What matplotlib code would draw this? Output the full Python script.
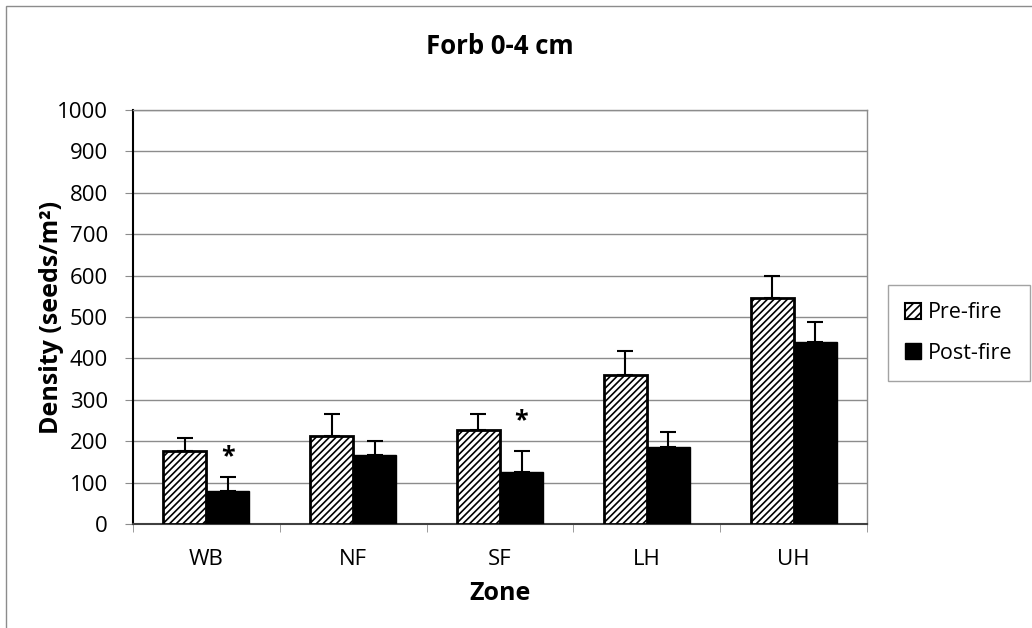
import matplotlib.pyplot as plt
import matplotlib.patches as mpatches
import numpy as np

zones = ["WB", "NF", "SF", "LH", "UH"]
pre_fire = [176, 213, 227, 360, 545]
pre_err = [32, 52, 38, 58, 54]
post_fire = [80, 167, 126, 186, 440]
post_err = [34, 33, 51, 37, 49]
# zones with a significant pre/post difference, and where the star sits
star_zones = ["WB", "SF"]
star_y = [162, 250]

plt.rcParams['font.family'] = ['Open Sans', 'DejaVu Sans']
plt.rcParams['hatch.linewidth'] = 1.2
plt.rcParams['hatch.color'] = '#555555'

fig = plt.figure(figsize=(10.32, 6.28), dpi=100)
ax = fig.add_axes((133 / 1032, 104 / 628, 734 / 1032, 414 / 628))

## Outer chart border (top and left only show)
fig.add_artist(mpatches.Rectangle((6 / 1032, -0.1), 1.2, 1 - 6 / 628 + 0.1,
                                  transform=fig.transFigure, fill=False,
                                  edgecolor='#8c8c8c', linewidth=1.0))

x = np.arange(len(zones))
w = 0.293

ax.bar(x - w / 2, pre_fire, w, color='white', edgecolor='black',
       linewidth=2.0, hatch='/////', zorder=3)
ax.bar(x + w / 2, post_fire, w, color='black', edgecolor='black',
       linewidth=1.0, zorder=3)
ax.errorbar(x - w / 2, pre_fire, yerr=[np.zeros(len(zones)), pre_err],
            fmt='none', ecolor='black', elinewidth=1.5, capsize=6,
            capthick=1.5, zorder=4)
ax.errorbar(x + w / 2, post_fire, yerr=[np.zeros(len(zones)), post_err],
            fmt='none', ecolor='black', elinewidth=1.5, capsize=6,
            capthick=1.5, zorder=4)

for z, sy in zip(star_zones, star_y):
    i = zones.index(z)
    ax.text(x[i] + w / 2, sy, "*", ha='center', va='center', fontsize=18,
            fontweight='bold')

## Axes and grid
ax.set_xlim(-0.5, len(zones) - 0.5)
ax.set_ylim(0, 1000)
ax.set_yticks(np.arange(0, 1001, 100))
ax.yaxis.grid(True, color='#8c8c8c', linewidth=1.0, zorder=0)
ax.set_axisbelow(True)
ax.set_xticks(x)
ax.set_xticklabels(zones)
ax.set_xticks(np.arange(-0.5, len(zones)), minor=True)
ax.tick_params(axis='x', which='major', length=0, labelsize=16, pad=18)
ax.tick_params(axis='x', which='minor', length=6, color='#8c8c8c',
               direction='out')
ax.tick_params(axis='y', length=6, labelsize=16, color='#8c8c8c', pad=12)

for side in ('top', 'right'):
    ax.spines[side].set_color('#8c8c8c')
    ax.spines[side].set_linewidth(1.0)
ax.spines['left'].set_linewidth(1.5)
ax.spines['bottom'].set_linewidth(1.5)
ax.spines['bottom'].set_color('#404040')

ax.set_title("Forb 0-4 cm", fontsize=18.5, fontweight='bold', pad=40)
ax.set_xlabel("Zone", fontsize=18, fontweight='bold', labelpad=8)
ax.set_ylabel("Density (seeds/m²)", fontsize=18, fontweight='bold')
ax.yaxis.set_label_coords(-0.094, 0.5)

## Legend
handles = [mpatches.Patch(facecolor='white', edgecolor='black', hatch='////',
                          linewidth=1.5, label='Pre-fire'),
           mpatches.Patch(facecolor='black', edgecolor='black',
                          label='Post-fire')]
leg = fig.legend(handles=handles, loc='upper left',
                 bbox_to_anchor=(888 / 1032, 1 - 285 / 628), fontsize=15.5,
                 frameon=True, fancybox=False, handlelength=0.75,
                 handleheight=0.75, handletextpad=0.3, labelspacing=0.9,
                 borderpad=0.8, borderaxespad=0)
leg.get_frame().set_edgecolor('#8c8c8c')
leg.get_frame().set_linewidth(1.0)

fig.savefig("out.png", dpi=100)
